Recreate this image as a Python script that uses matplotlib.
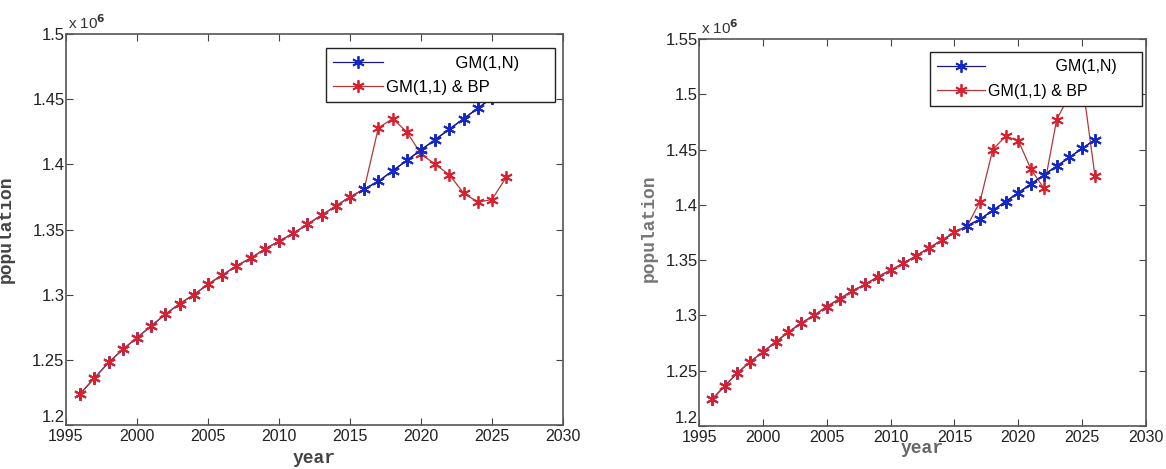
import numpy as np
import matplotlib
matplotlib.use('Agg')
import matplotlib.pyplot as plt

# population in units of 10^6
years = list(range(1996, 2027))
gm1n = [1.224, 1.236, 1.248, 1.258, 1.267, 1.276, 1.285, 1.293, 1.300, 1.308,
        1.315, 1.322, 1.328, 1.335, 1.341, 1.347, 1.354, 1.361, 1.368, 1.375,
        1.381, 1.387, 1.395, 1.403, 1.411, 1.419, 1.427, 1.435, 1.443, 1.451,
        1.459]
bp_left_tail = [1.428, 1.435, 1.425, 1.408, 1.400, 1.392, 1.378, 1.371, 1.373, 1.390]
bp_right_tail = [1.403, 1.450, 1.462, 1.458, 1.432, 1.415, 1.477, 1.499, 1.512, 1.426]
bp_left = gm1n[:21] + bp_left_tail
bp_right = gm1n[:21] + bp_right_tail

ylims = [(1.2, 1.5), (1.2, 1.55)]
yticks = [[1.2, 1.25, 1.3, 1.35, 1.4, 1.45, 1.5],
          [1.2, 1.25, 1.3, 1.35, 1.4, 1.45, 1.5, 1.55]]
xticks = [1995, 2000, 2005, 2010, 2015, 2020, 2025, 2030]

tickfont = 'Liberation Sans'
monofont = 'Liberation Mono'

fig = plt.figure(figsize=(11.66, 4.69), dpi=100)
ax1 = fig.add_axes([0.0566, 0.0938, 0.4262, 0.8337])
ax2 = fig.add_axes([0.5995, 0.0917, 0.3834, 0.8252])

ast = (6, 2, 0)
for i, (ax, bp) in enumerate([(ax1, bp_left), (ax2, bp_right)]):
    ax.plot(years, gm1n, color='#1a1a80', lw=0.9, marker=ast, ms=9, mew=1.3,
            mec='#1428c8', label='               GM(1,N)      ')
    ax.plot(years, bp, color='#b03838', lw=0.9, marker=ast, ms=9, mew=1.3,
            mec='#d8202e', label='GM(1,1) & BP')
    # blue drawn again after 2016 so it sits on top where they cross
    ax.plot(years[20:], gm1n[20:], color='#1a1a80', lw=0.9, marker=ast, ms=9,
            mew=1.3, mec='#1428c8')
    ax.set_xlim(1995, 2030)
    ax.set_ylim(*ylims[i])
    ax.set_xticks(xticks)
    ax.set_yticks(yticks[i])
    ylabs = ax.set_yticklabels(['%g' % v for v in yticks[i]], family=tickfont,
                               fontsize=12, color='#222222')
    ylabs[0].set_va('bottom')
    ax.set_xticklabels([str(v) for v in xticks], family=tickfont, fontsize=11.5,
                       color='#222222')
    ax.tick_params(direction='in', top=True, right=True, length=5, width=0.8,
                   color='#444444')
    ax.tick_params(axis='x', pad=3)
    ax.tick_params(axis='y', pad=1)
    for s in ax.spines.values():
        s.set_color('#555555')
        s.set_linewidth(1.2)
    ax.text(0.005, 1.004, 'x 10$^{\\mathbf{6}}$', transform=ax.transAxes,
            family=tickfont, fontsize=11, ha='left', va='bottom', color='#333333')

leg1 = ax1.legend(loc='upper right', bbox_to_anchor=(1 - 8 / 497, 1 - 14 / 391),
                  borderaxespad=0, fancybox=False, edgecolor='#222222', framealpha=1,
                  prop={'family': tickfont, 'size': 12}, handlelength=3.0,
                  handletextpad=0.2, labelspacing=0.55, borderpad=0.45)
ax2.lines[0].set_label('               GM(1,N)    ')
leg2 = ax2.legend(loc='upper right', bbox_to_anchor=(1 - 4 / 447, 1 - 13 / 387),
                  borderaxespad=0, fancybox=False, edgecolor='#222222', framealpha=1,
                  prop={'family': tickfont, 'size': 11.5}, handlelength=3.0,
                  handletextpad=0.2, labelspacing=0.6, borderpad=0.45)
for leg in (leg1, leg2):
    leg.get_frame().set_linewidth(1.0)

ax1.set_xlabel('year', family=monofont, fontsize=13, fontweight='bold',
               color='#444444', labelpad=4)
ax1.set_ylabel('population', family=monofont, fontsize=13, fontweight='bold',
               color='#444444')
ax2.set_xlabel('year', family=monofont, fontsize=13, fontweight='bold',
               color='#666666', labelpad=-4)
ax2.set_ylabel('population', family=monofont, fontsize=13, fontweight='bold',
               color='#777777')
ax1.yaxis.set_label_coords(-0.103, 0.5)
ax2.yaxis.set_label_coords(-0.092, 0.51)

fig.savefig('out.png', dpi=100)
